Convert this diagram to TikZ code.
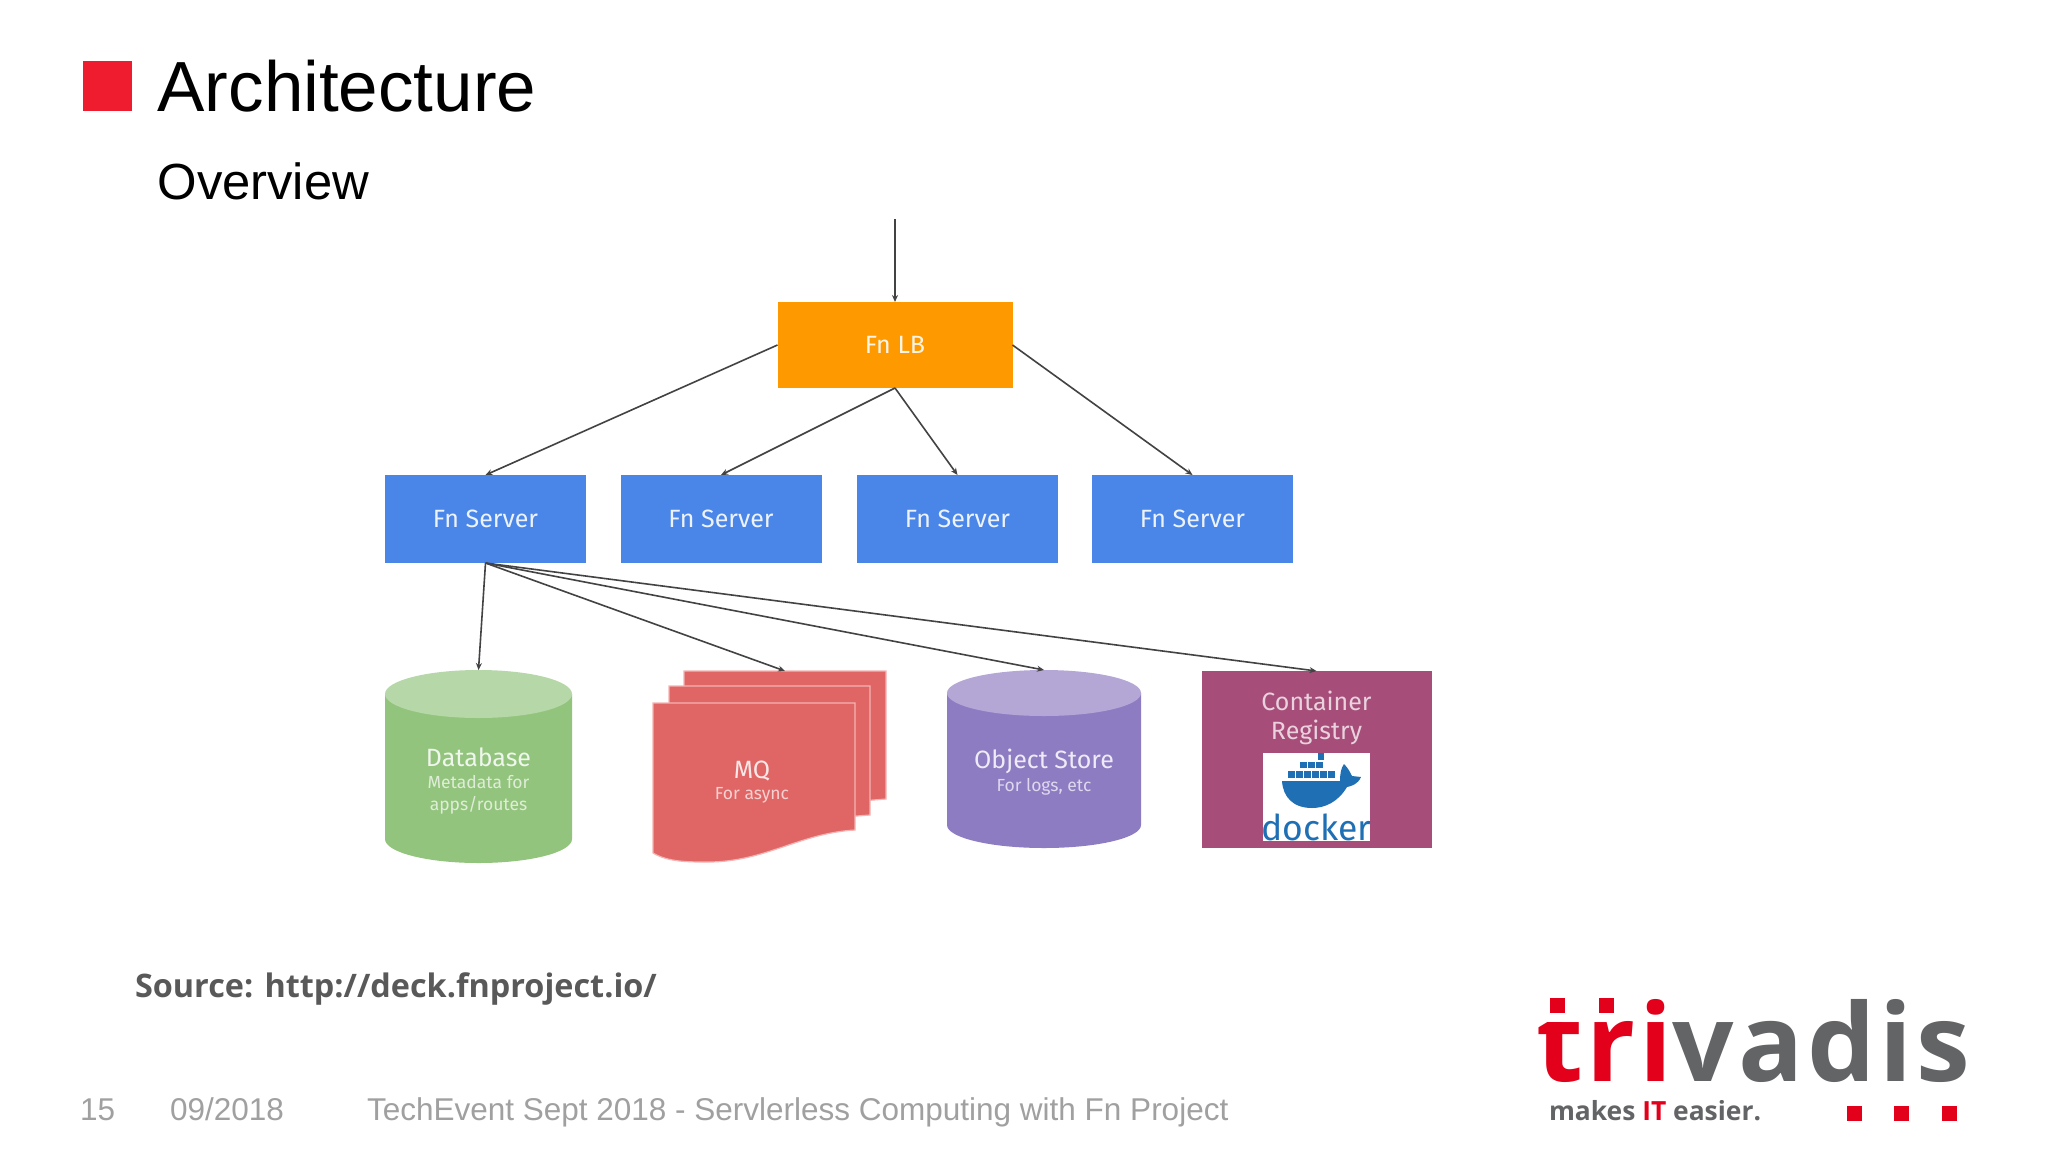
\documentclass[tikz,border=0pt]{standalone}
\usepackage{fontspec}
\setmainfont{Liberation Sans}
\newfontfamily\boxfont{Fira Sans}
\newfontfamily\srcfont{Open Sans}
\newcommand{\fsz}[1]{\fontsize{#1}{#1}\selectfont}
\definecolor{lbfill}{HTML}{FF9900}
\definecolor{srvfill}{HTML}{4A86E8}
\definecolor{dbfill}{HTML}{93C47D}
\definecolor{dbtop}{HTML}{B6D7A8}
\definecolor{mqfill}{HTML}{E06666}
\definecolor{mqedge}{HTML}{F4B4B4}
\definecolor{osfill}{HTML}{8E7CC3}
\definecolor{ostop}{HTML}{B4A7D6}
\definecolor{regfill}{HTML}{A64D79}
\definecolor{dockblue}{HTML}{1F6FB4}
\definecolor{arrowc}{HTML}{434343}
\definecolor{titlered}{HTML}{EE1C2E}
\definecolor{logored}{HTML}{E2001A}
\definecolor{logogrey}{HTML}{636466}
\definecolor{foot}{HTML}{A0A0A0}
\definecolor{srcgrey}{HTML}{595959}
\usetikzlibrary{arrows.meta}
\tikzset{
  plain/.style={inner sep=0pt,outer sep=0pt},
  flatbox/.style={plain,rectangle,minimum width=#1},
  lbbox/.style={flatbox=235pt,minimum height=86pt,fill=lbfill,text=white!90!lbfill,font=\boxfont\fsz{25}},
  srvbox/.style={flatbox=201pt,minimum height=88pt,fill=srvfill,text=white!90!srvfill,font=\boxfont\fsz{25}},
  area/.style={plain,rectangle},
  conn/.style={draw=arrowc,line width=1.6pt,-{Stealth[length=7pt,width=6pt]}},
  main/.style={plain,font=\boxfont\fsz{25},align=center},
  sub/.style={plain,font=\boxfont\fsz{17.5},align=center},
  foottext/.style={plain,anchor=base west,text=foot,font=\fsz{31.5}},
  sheet/.style={fill=mqfill,draw=mqedge,line width=1.2pt},
  logodot/.style={plain,rectangle,minimum width=15pt,minimum height=15pt,fill=logored},
}
\begin{document}
\begin{tikzpicture}[x=1pt,y=-1pt]
\fill[white] (0,0) rectangle (2048,1152);
\useasboundingbox (0,0) rectangle (2048,1152);
% header
\node[plain,rectangle,minimum width=49pt,minimum height=50pt,fill=titlered] (mark) at (107.5,86) {};
\node[plain,anchor=base west,font=\fsz{71}] (title) at (157.5,111) {Architecture};
\node[plain,anchor=base west,font=\fsz{50.8}] (subtitle) at (157.5,199) {Overview};
% top tier
\coordinate (entry) at (895,219);
\node[lbbox] (lb) at (895,345) {Fn LB};
\node[srvbox] (s1) at (485.5,519) {Fn Server};
\node[srvbox] (s2) at (721,519) {Fn Server};
\node[srvbox] (s3) at (957.5,519) {Fn Server};
\node[srvbox] (s4) at (1192.5,519) {Fn Server};
% database
\node[area,minimum width=187pt,minimum height=193pt] (db) at (478.5,766.5) {};
\fill[dbfill] (385,694) -- (385,839) arc[start angle=180,end angle=0,x radius=93.5,y radius=24] -- (572,694) -- cycle;
\fill[dbtop] (478.5,694) ellipse[x radius=93.5,y radius=24];
\node[main,text=white!85!dbfill] (dbt) at (478.5,757.5) {Database};
\node[sub,text=white!70!dbfill] (dbs) at (478.5,795) {Metadata for\\[5pt]apps/routes};
% message queue
\node[area,minimum width=233pt,minimum height=191pt] (mqall) at (769.5,766.5) {};
\node[area,minimum width=202pt,minimum height=128pt] (mq) at (785,735) {};
\path[sheet] (684,671) -- (886,671) -- (886,799) -- (684,815) -- cycle;
\path[sheet] (669,686) -- (870,686) -- (870,815) -- (669,830) -- cycle;
\path[sheet] (653,703) -- (855,703) -- (855,830)
  .. controls (800,833) and (765,862) .. (708,862)
  .. controls (688,862) and (668,862) .. (653,853) -- cycle;
\node[main,text=white!85!mqfill] (mqt) at (752,771.5) {MQ};
\node[sub,text=white!70!mqfill] (mqs) at (752,795) {For async};
% object store
\node[area,minimum width=194pt,minimum height=178pt] (os) at (1044,759) {};
\fill[osfill] (947,693) -- (947,825) arc[start angle=180,end angle=0,x radius=97,y radius=23] -- (1141,693) -- cycle;
\fill[ostop] (1044,693) ellipse[x radius=97,y radius=23];
\node[main,text=white!85!osfill] (ost) at (1044,761) {Object Store};
\node[sub,text=white!70!osfill] (oss) at (1044,787) {For logs, etc};
% registry
\node[plain,rectangle,minimum width=230pt,minimum height=177pt,fill=regfill] (reg) at (1316.5,759.5) {};
\node[main,text=white!75!regfill] (regt) at (1316.5,718) {Container\\[4pt]Registry};
\node[plain,rectangle,minimum width=107pt,minimum height=88pt,fill=white] (dock) at (1316.5,796.5) {};
\fill[dockblue] (1318,753) rectangle (1324,760);
\foreach \xx in {1300,1308,1316} {\fill[dockblue] (\xx,762) rectangle ++(6.5,6);}
\foreach \xx in {1288,1296,1304,1312,1320,1328} {\fill[dockblue] (\xx,771) rectangle ++(6.5,7);}
\fill[dockblue] (1282,781) -- (1340,781)
  .. controls (1340,774) and (1341,768) .. (1344,764)
  .. controls (1348,768) and (1350,772) .. (1352,776)
  -- (1361,777)
  .. controls (1358,784) and (1352,786) .. (1347,787)
  .. controls (1338,802) and (1325,808) .. (1312,808)
  .. controls (1293,808) and (1283,797) .. (1282,781) -- cycle;
\node[plain,anchor=base,text=dockblue,font=\boxfont\fsz{35.5}] (dockt) at (1316.5,840) {docker};
% connectors
\draw[conn] (entry) -- (lb.north);
\draw[conn] (lb.west) -- (s1.north);
\draw[conn] (lb.south) -- (s2.north);
\draw[conn] (lb.south) -- (s3.north);
\draw[conn] (lb.east) -- (s4.north);
\draw[conn] (s1.south) -- (db.north);
\draw[conn] (s1.south) -- (mq.north);
\draw[conn] (s1.south) -- (os.north);
\draw[conn] (s1.south) -- (reg.north);
% source and footer
\node[plain,anchor=base west,text=srcgrey,font=\srcfont\bfseries\fsz{32.4}] (src) at (135,997) {Source: http://deck.fnproject.io/};
\node[foottext] (page) at (80,1120) {15};
\node[foottext] (date) at (170,1120) {09/2018};
\node[foottext] (event) at (367,1120) {TechEvent Sept 2018 - Servlerless Computing with Fn Project};
% logo
\node[plain,anchor=base west,font=\srcfont\bfseries\fsz{108}] (logo) at (1536,1081) {\addfontfeature{LetterSpace=3.7}\textcolor{logored}{tri}\textcolor{logogrey}{vadis}};
\fill[white] (1535,994) rectangle (1585,1022);
\node[logodot] (d1) at (1557.5,1005.5) {};
\node[logodot] (d2) at (1606.5,1005.5) {};
\node[plain,anchor=base west,font=\srcfont\bfseries\fsz{26.4}] (tag) at (1549,1120) {\textcolor{logogrey}{makes} \textcolor{logored}{IT} \textcolor{logogrey}{easier.}};
\node[logodot] (d3) at (1854,1113) {};
\node[logodot] (d4) at (1901,1113) {};
\node[logodot] (d5) at (1949.5,1113) {};
\end{tikzpicture}
\end{document}
